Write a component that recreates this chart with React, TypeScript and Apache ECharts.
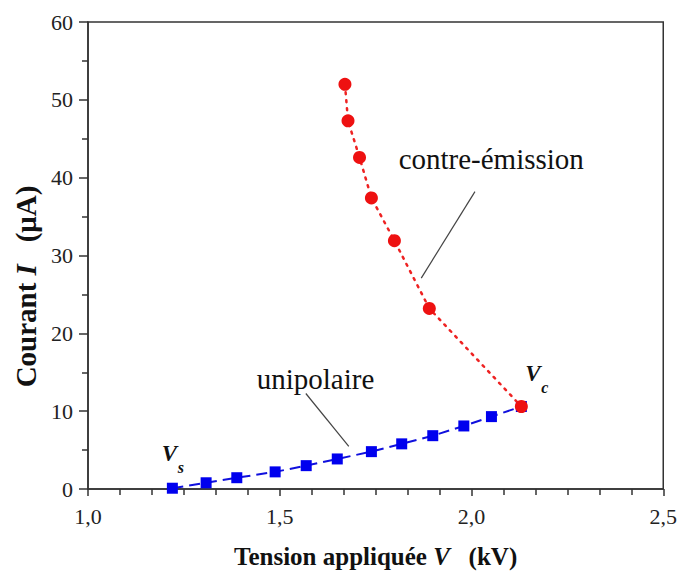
import React, { useEffect, useRef } from "react";
import * as echarts from "echarts";

const unipolaireV = [1.22, 1.308, 1.388, 1.488, 1.569, 1.65, 1.739, 1.818, 1.899, 1.98, 2.052, 2.13];
const unipolaireI = [0.1, 0.8, 1.45, 2.2, 3.0, 3.86, 4.8, 5.8, 6.85, 8.1, 9.3, 10.6];
const contreV = [1.67, 1.678, 1.708, 1.739, 1.799, 1.89, 2.13];
const contreI = [52.0, 47.3, 42.6, 37.4, 31.9, 23.2, 10.6];

const FONT = "Liberation Serif";

export default function App() {
  const ref = useRef<HTMLDivElement>(null);
  useEffect(() => {
    document.body.style.margin = "0";
    const chart = echarts.init(ref.current!, null, { renderer: "svg" });
    const option: any = {
      animation: false,
      backgroundColor: "#ffffff",
      textStyle: { fontFamily: FONT },
      grid: {
        left: 88,
        top: 22,
        right: 14,
        bottom: 81,
        show: true,
        borderColor: "#333",
        borderWidth: 1.5,
      },
      xAxis: {
        type: "value",
        min: 1.0,
        max: 2.5,
        interval: 0.5,
        name: "{b|Tension appliquée }{i|V}{b|   (kV)}",
        nameLocation: "middle",
        nameGap: 55,
        nameTextStyle: {
          rich: {
            b: { fontFamily: FONT, fontWeight: "bold", fontSize: 25, color: "#111" },
            i: { fontFamily: FONT, fontWeight: "bold", fontStyle: "italic", fontSize: 25, color: "#111" },
          },
        },
        axisLine: { onZero: false, lineStyle: { color: "#333", width: 1.5 } },
        axisTick: { length: 7, lineStyle: { color: "#333", width: 1.5 } },
        minorTick: { show: true, splitNumber: 6, length: 6, lineStyle: { color: "#333", width: 1.5 } },
        splitLine: { show: false },
        axisLabel: {
          margin: 16,
          fontFamily: FONT,
          fontSize: 22,
          color: "#222",
          formatter: (v: number) => v.toFixed(1).replace(".", ","),
        },
      },
      yAxis: {
        type: "value",
        min: 0,
        max: 60,
        interval: 10,
        name: "{b|Courant }{i|I}{b|   (μA)}",
        nameLocation: "middle",
        nameRotate: 90,
        nameGap: 43,
        nameTextStyle: {
          padding: [0, 62, 0, 0],
          rich: {
            b: { fontFamily: FONT, fontWeight: "bold", fontSize: 29, color: "#111" },
            i: { fontFamily: FONT, fontWeight: "bold", fontStyle: "italic", fontSize: 29, color: "#111" },
          },
        },
        axisLine: { onZero: false, lineStyle: { color: "#333", width: 1.5 } },
        axisTick: { length: 9, lineStyle: { color: "#333", width: 1.5 } },
        minorTick: { show: true, splitNumber: 2, length: 6, lineStyle: { color: "#333", width: 1.5 } },
        splitLine: { show: false },
        axisLabel: {
          margin: 15,
          fontFamily: FONT,
          fontSize: 22,
          color: "#222",
        },
      },
      series: [
        {
          type: "line",
          data: unipolaireV.map((v, i) => [v, unipolaireI[i]]),
          symbol: "rect",
          symbolSize: 11,
          itemStyle: { color: "#0000ee" },
          lineStyle: { color: "#1010dd", width: 2, type: [11, 6] },
          z: 2,
        },
        {
          type: "line",
          data: contreV.map((v, i) => [v, contreI[i]]),
          symbol: "circle",
          symbolSize: 13,
          itemStyle: { color: "#ee1111" },
          lineStyle: { color: "#ee2222", width: 2.5, type: [2, 6], cap: "round" },
          z: 3,
        },
      ],
    };
    chart.setOption(option);

    const p = (x: number, y: number) => chart.convertToPixel({ gridIndex: 0 }, [x, y]) as number[];
    const t1 = p(1.81, 42.4);
    const t2 = p(1.44, 14.1);
    const l1a = p(2.009, 38.2);
    const l1b = p(1.869, 27.1);
    const l2a = p(1.568, 12.27);
    const l2b = p(1.68, 5.48);
    const vs = p(1.192, 4.6);
    const vc = p(2.14, 14.8);
    const lineStyle = { stroke: "#444", lineWidth: 1.2 };
    const txt = (x: number, y: number, text: string, size: number, italicBold: boolean) => ({
      type: "text",
      x,
      y,
      style: {
        text,
        fontFamily: FONT,
        fontSize: size,
        fontWeight: italicBold ? "bold" : "normal",
        fontStyle: italicBold ? "italic" : "normal",
        fill: "#111",
        verticalAlign: "middle",
      },
    });
    chart.setOption({
      graphic: [
        txt(t1[0], t1[1], "contre-émission", 29, false),
        txt(t2[0], t2[1], "unipolaire", 29, false),
        { type: "line", shape: { x1: l1a[0], y1: l1a[1], x2: l1b[0], y2: l1b[1] }, style: lineStyle },
        { type: "line", shape: { x1: l2a[0], y1: l2a[1], x2: l2b[0], y2: l2b[1] }, style: lineStyle },
        txt(vs[0], vs[1], "V", 23, true),
        txt(vs[0] + 16, vs[1] + 14, "s", 16, true),
        txt(vc[0], vc[1], "V", 23, true),
        txt(vc[0] + 16, vc[1] + 14, "c", 16, true),
      ],
    });
    return () => chart.dispose();
  }, []);
  return <div ref={ref} style={{ width: 680, height: 574 }} />;
}
